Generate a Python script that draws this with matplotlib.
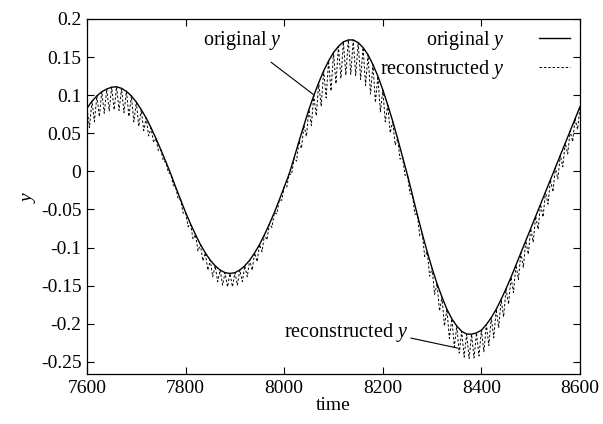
import matplotlib

matplotlib.use("Agg")
import matplotlib.pyplot as plt
from matplotlib.ticker import FixedLocator, FuncFormatter

# original signal, sampled every 10 time units from 7600 to 8600
t_start, t_step = 7600, 10
orig_y = [
    0.083, 0.092, 0.099, 0.1045, 0.108, 0.1105, 0.111, 0.109, 0.105, 0.099,
    0.091, 0.081, 0.070, 0.057, 0.043, 0.028, 0.0125, -0.0035, -0.021, -0.0375,
    -0.054, -0.069, -0.083, -0.096, -0.107, -0.1165, -0.124, -0.1295, -0.133, -0.134,
    -0.133, -0.1295, -0.124, -0.1165, -0.107, -0.096, -0.083, -0.069, -0.054, -0.0375,
    -0.0205, -0.0035, 0.0175, 0.0395, 0.0605, 0.081, 0.0995, 0.1165, 0.132, 0.145,
    0.156, 0.164, 0.170, 0.1725, 0.1725, 0.169, 0.1625, 0.153, 0.140, 0.125,
    0.107, 0.087, 0.066, 0.043, 0.019, -0.005, -0.031, -0.057, -0.082, -0.1055,
    -0.1275, -0.1475, -0.165, -0.181, -0.1935, -0.203, -0.210, -0.2135, -0.2138, -0.212,
    -0.2085, -0.201, -0.192, -0.181, -0.168, -0.154, -0.139, -0.123, -0.107, -0.091,
    -0.075, -0.059, -0.043, -0.027, -0.011, 0.005, 0.021, 0.037, 0.053, 0.069,
    0.085,
]

# lower tips of the reconstructed signal, halfway between the samples above
recon_low = [
    0.0575, 0.0655, 0.0718, 0.0763, 0.0793, 0.0808, 0.080, 0.077, 0.072, 0.065,
    0.059, 0.0535, 0.0465, 0.038, 0.0265, 0.0133, -0.0015, -0.0183, -0.0363, -0.0548,
    -0.0725, -0.089, -0.1045, -0.1175, -0.1298, -0.1383, -0.1448, -0.1493, -0.1515, -0.1515,
    -0.1493, -0.1448, -0.1383, -0.1298, -0.1185, -0.1055, -0.090, -0.0735, -0.0558, -0.038,
    -0.021, -0.004, 0.0135, 0.030, 0.0458, 0.0603, 0.073, 0.0853, 0.0965, 0.1055,
    0.115, 0.122, 0.1263, 0.1275, 0.1258, 0.1208, 0.1128, 0.1015, 0.0905, 0.078,
    0.065, 0.0505, 0.0345, 0.016, -0.005, -0.029, -0.056, -0.0845, -0.1118, -0.1375,
    -0.1615, -0.1833, -0.203, -0.2193, -0.2303, -0.2385, -0.2438, -0.2457, -0.2449, -0.2423,
    -0.2368, -0.2285, -0.2185, -0.2055, -0.191, -0.1745, -0.159, -0.142, -0.126, -0.109,
    -0.093, -0.076, -0.060, -0.043, -0.027, -0.010, 0.006, 0.023, 0.039, 0.055,
]

x_ticks = [7600, 7800, 8000, 8200, 8400, 8600]
y_ticks = [-0.25, -0.2, -0.15, -0.1, -0.05, 0, 0.05, 0.1, 0.15, 0.2]


def tick_fmt(v, pos):
    s = f"{v:.2f}".rstrip("0").rstrip(".")
    return "0" if s in ("-0", "0") else s


plt.rcParams["font.family"] = ["Liberation Serif", "DejaVu Serif"]
plt.rcParams["mathtext.fontset"] = "custom"
plt.rcParams["mathtext.rm"] = "Liberation Serif"
plt.rcParams["mathtext.it"] = "Liberation Serif:italic"
plt.rcParams["axes.unicode_minus"] = False

t_orig = [t_start + i * t_step for i in range(len(orig_y))]
# reconstructed: zig-zag between the curve and the lower tips
t_rec, y_rec = [], []
for i, lo in enumerate(recon_low):
    t_rec += [t_orig[i], t_orig[i] + t_step / 2]
    y_rec += [orig_y[i], lo]
t_rec.append(t_orig[-1])
y_rec.append(orig_y[-1])

fig = plt.figure(figsize=(6.03, 4.24), dpi=100)
ax = fig.add_axes([0.1443, 0.1179, 0.8176, 0.8373])

ax.plot(t_rec, y_rec, color="black", lw=0.7, dashes=(2.5, 2.0), label="reconstructed $y$")
ax.plot(t_orig, orig_y, color="black", lw=1.0, label="original $y$")

ax.set_xlim(7600, 8600)
ax.set_ylim(-0.266, 0.2)
ax.xaxis.set_major_locator(FixedLocator(x_ticks))
ax.yaxis.set_major_locator(FixedLocator(y_ticks))
ax.yaxis.set_major_formatter(FuncFormatter(tick_fmt))
ax.tick_params(direction="in", length=5, width=0.8, top=True, right=True, labelsize=14, pad=4)
for s in ax.spines.values():
    s.set_linewidth(0.9)

ax.set_xlabel("time", fontsize=14, labelpad=0)
ax.set_ylabel("$y$", fontsize=14, labelpad=2)

h, l = ax.get_legend_handles_labels()
ax.legend(h[::-1], l[::-1], loc="upper right", frameon=False, markerfirst=False,
          fontsize=14.5, handlelength=1.55, handletextpad=1.7, labelspacing=0.3,
          borderpad=0.2, borderaxespad=0.3)

ax.annotate("original $y$", xy=(8059, 0.101), xytext=(7915, 0.172), fontsize=14.5,
            ha="center", va="center",
            arrowprops=dict(arrowstyle="-", lw=0.8, color="black", shrinkA=9, shrinkB=0))
ax.annotate("reconstructed $y$", xy=(8352, -0.232), xytext=(8125, -0.212), fontsize=14.5,
            ha="center", va="center",
            arrowprops=dict(arrowstyle="-", lw=0.8, color="black", shrinkA=0, shrinkB=0,
                            relpos=(1.0, 0.3)))

fig.savefig("out.png", dpi=100)
